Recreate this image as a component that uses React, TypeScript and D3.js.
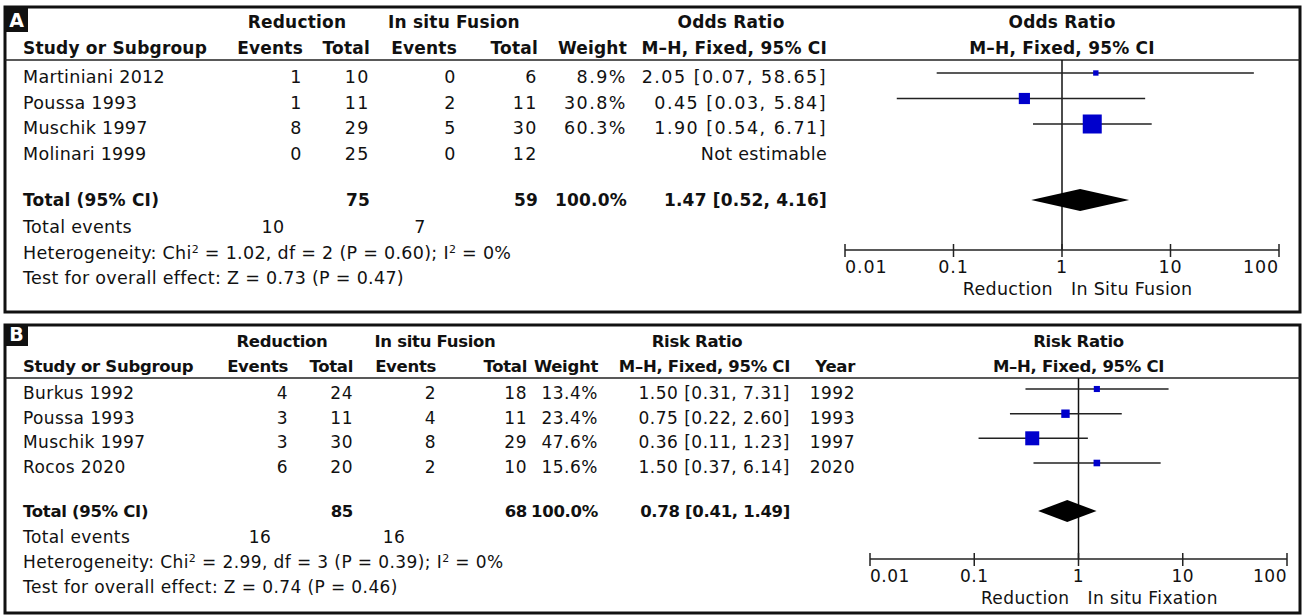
import React from 'react';
import * as d3 from 'd3';

// ---- panel A : odds ratio ----
const studiesA = ['Martiniani 2012', 'Poussa 1993', 'Muschik 1997', 'Molinari 1999'];
const redEventsA = [1, 1, 8, 0];
const redTotalA = [10, 11, 29, 25];
const insEventsA = [0, 2, 5, 0];
const insTotalA = [6, 11, 30, 12];
const weightA = [8.9, 30.8, 60.3, null];
const estA = [2.05, 0.45, 1.9, null];
const lowA = [0.07, 0.03, 0.54, null];
const highA = [58.65, 5.84, 6.71, null];
const pooledA = [1.47, 0.52, 4.16];
const totalsA = [75, 59];
const totalEventsA = [10, 7];
const statsA = [
  'Heterogeneity: Chi² = 1.02, df = 2 (P = 0.60); I² = 0%',
  'Test for overall effect: Z = 0.73 (P = 0.47)',
];

// ---- panel B : risk ratio ----
const studiesB = ['Burkus 1992', 'Poussa 1993', 'Muschik 1997', 'Rocos 2020'];
const redEventsB = [4, 3, 3, 6];
const redTotalB = [24, 11, 30, 20];
const insEventsB = [2, 4, 8, 2];
const insTotalB = [18, 11, 29, 10];
const weightB = [13.4, 23.4, 47.6, 15.6];
const estB = [1.5, 0.75, 0.36, 1.5];
const lowB = [0.31, 0.22, 0.11, 0.37];
const highB = [7.31, 2.6, 1.23, 6.14];
const yearB = [1992, 1993, 1997, 2020];
const pooledB = [0.78, 0.41, 1.49];
const totalsB = [85, 68];
const totalEventsB = [16, 16];
const statsB = [
  'Heterogeneity: Chi² = 2.99, df = 3 (P = 0.39); I² = 0%',
  'Test for overall effect: Z = 0.74 (P = 0.46)',
];

const axisTicks = [0.01, 0.1, 1, 10, 100];
const tickLabels = ['0.01', '0.1', '1', '10', '100'];

const FONT = 'DejaVu Sans';

const fmtCI = (e, l, h) => `${e.toFixed(2)} [${l.toFixed(2)}, ${h.toFixed(2)}]`;

function Sup({ s }) {
  const parts = s.split('²');
  return (
    <>
      {parts.map((p, i) => (
        <React.Fragment key={i}>
          <tspan>{p}</tspan>
          {i < parts.length - 1 && (
            <tspan fontSize={11} baselineShift="6">2</tspan>
          )}
        </React.Fragment>
      ))}
    </>
  );
}

function Panel({ cfg }) {
  const L = cfg.layout;
  const f = cfg.font;
  const x = d3.scaleLog().domain([0.01, 100]).range([L.ax0, L.ax1]);
  const size = d3.scaleLinear().domain([0, d3.max(cfg.weight, (d) => d ?? 0)]).range([3, L.maxSq]);
  const x1 = x(1);
  const T = (props) => (
    <text fontFamily={FONT} fontSize={f.fs} letterSpacing={f.ls} fill="#111" {...props} />
  );
  const N = (props) => <T letterSpacing={f.lsNum} textAnchor="end" {...props} />;
  const B = (props) => <T fontWeight="bold" fontSize={f.bfs} letterSpacing={f.bls} {...props} />;
  const c = L.cols;

  return (
    <g>
      <rect x={L.box[0]} y={L.box[1]} width={L.box[2] - L.box[0]} height={L.box[3] - L.box[1]}
        fill="white" stroke="#111" strokeWidth={3} />
      <rect x={L.box[0]} y={L.box[1]} width={23} height={L.tagH} fill="#111" />
      <text x={L.box[0] + 11.5} y={L.box[1] + L.tagH - 5} textAnchor="middle" fill="white"
        fontFamily={FONT} fontWeight="bold" fontSize={19}>{cfg.tag}</text>

      {/* header */}
      <B x={L.g1} y={L.h1} textAnchor="middle">Reduction</B>
      <B x={L.g2} y={L.h1} textAnchor="middle">In situ Fusion</B>
      <B x={L.g3} y={L.h1} textAnchor="middle">{cfg.measure}</B>
      <B x={x1} y={L.h1} textAnchor="middle">{cfg.measure}</B>
      <B x={c.study} y={L.h2}>Study or Subgroup</B>
      <B x={c.e1} y={L.h2} textAnchor="end">Events</B>
      <B x={c.t1} y={L.h2} textAnchor="end">Total</B>
      <B x={c.e2} y={L.h2} textAnchor="end">Events</B>
      <B x={c.t2} y={L.h2} textAnchor="end">Total</B>
      <B x={c.w} y={L.h2} textAnchor="end">Weight</B>
      <B x={c.ci} y={L.h2} textAnchor="end">M–H, Fixed, 95% CI</B>
      {c.year && <B x={c.year} y={L.h2} textAnchor="end">Year</B>}
      <B x={x1} y={L.h2} textAnchor="middle">M–H, Fixed, 95% CI</B>
      <line x1={L.box[0]} x2={L.box[2]} y1={L.hLine} y2={L.hLine} stroke="#222" strokeWidth={1.5} />

      {/* null line */}
      <line x1={x1} x2={x1} y1={L.hLine} y2={L.axisY} stroke="#111" strokeWidth={1.5} />

      {/* study rows */}
      {cfg.studies.map((s, i) => {
        const y = L.rows[i];
        const by = y + 10;
        const w = cfg.weight[i];
        const e = cfg.est[i];
        return (
          <g key={s}>
            <T x={c.study} y={by}>{s}</T>
            <N x={c.e1} y={by}>{cfg.e1[i]}</N>
            <N x={c.t1} y={by}>{cfg.t1[i]}</N>
            <N x={c.e2} y={by}>{cfg.e2[i]}</N>
            <N x={c.t2} y={by}>{cfg.t2[i]}</N>
            {w != null && <N x={c.w} y={by}>{w.toFixed(1)}%</N>}
            {e != null
              ? <N x={c.ci} y={by}>{fmtCI(e, cfg.low[i], cfg.high[i])}</N>
              : <T x={c.ci} y={by} textAnchor="end">Not estimable</T>}
            {c.year && <N x={c.year} y={by}>{cfg.year[i]}</N>}
            {e != null && (
              <>
                <line x1={x(cfg.low[i])} x2={x(cfg.high[i])} y1={y} y2={y} stroke="#222" strokeWidth={1.5} />
                <rect x={x(e) - size(w) / 2} y={y - size(w) / 2} width={size(w)} height={size(w)} fill="#0000cc" />
              </>
            )}
          </g>
        );
      })}

      {/* total */}
      <B x={c.study} y={L.totY + 6}>Total (95% CI)</B>
      <B x={c.t1} y={L.totY + 6} textAnchor="end">{cfg.totals[0]}</B>
      <B x={c.t2} y={L.totY + 6} textAnchor="end">{cfg.totals[1]}</B>
      <B x={c.w} y={L.totY + 6} textAnchor="end">100.0%</B>
      <B x={c.ci} y={L.totY + 6} textAnchor="end">{fmtCI(cfg.pooled[0], cfg.pooled[1], cfg.pooled[2])}</B>
      <path
        d={`M${x(cfg.pooled[1])},${L.totY} L${x(cfg.pooled[0])},${L.totY - 11} L${x(cfg.pooled[2])},${L.totY} L${x(cfg.pooled[0])},${L.totY + 11} Z`}
        fill="#000" />

      <T x={c.study} y={L.evY + 6}>Total events</T>
      <T x={L.ev1} y={L.evY + 6} textAnchor="middle">{cfg.totalEvents[0]}</T>
      <T x={L.ev2} y={L.evY + 6} textAnchor="middle">{cfg.totalEvents[1]}</T>
      <T x={c.study} y={L.hetY + 6}><Sup s={cfg.stats[0]} /></T>
      <T x={c.study} y={L.testY + 6}>{cfg.stats[1]}</T>

      {/* axis */}
      <line x1={L.ax0} x2={L.ax1} y1={L.axisY} y2={L.axisY} stroke="#222" strokeWidth={1.5} />
      {axisTicks.map((t, i) => (
        <g key={t}>
          <line x1={x(t)} x2={x(t)} y1={L.axisY - 6} y2={L.axisY + 7} stroke="#222" strokeWidth={1.5} />
          <T x={x(t)} y={L.axisY + 23} letterSpacing={f.lsTick}
            textAnchor={i === 0 ? 'start' : i === axisTicks.length - 1 ? 'end' : 'middle'}>
            {tickLabels[i]}
          </T>
        </g>
      ))}
      <T x={x1 - 9} y={L.axisY + 45} textAnchor="end">Reduction</T>
      <T x={x1 + 9} y={L.axisY + 45}>{cfg.favours}</T>
    </g>
  );
}

const panelA = {
  tag: 'A', measure: 'Odds Ratio', favours: 'In Situ Fusion',
  studies: studiesA, e1: redEventsA, t1: redTotalA, e2: insEventsA, t2: insTotalA,
  weight: weightA, est: estA, low: lowA, high: highA, pooled: pooledA,
  totals: totalsA, totalEvents: totalEventsA, stats: statsA,
  font: { fs: 17.5, ls: 0.3, lsNum: 1.5, lsTick: 0.9, bfs: 17, bls: 0.2 },
  layout: {
    box: [5, 7, 1300, 312], tagH: 25,
    h1: 28, h2: 54, hLine: 60,
    cols: { study: 23, e1: 303, t1: 370, e2: 457, t2: 538, w: 627, ci: 827 },
    g1: 297, g2: 454, g3: 731,
    rows: [73, 98.5, 124, 149.5], totY: 200, evY: 227, hetY: 253, testY: 278,
    ev1: 273, ev2: 420,
    ax0: 845, ax1: 1279, axisY: 250, maxSq: 19,
  },
};

const panelB = {
  tag: 'B', measure: 'Risk Ratio', favours: 'In situ Fixation',
  studies: studiesB, e1: redEventsB, t1: redTotalB, e2: insEventsB, t2: insTotalB,
  weight: weightB, est: estB, low: lowB, high: highB, pooled: pooledB, year: yearB,
  totals: totalsB, totalEvents: totalEventsB, stats: statsB,
  font: { fs: 17, ls: 0.4, lsNum: 0.5, lsTick: 0.5, bfs: 16.5, bls: -0.3 },
  layout: {
    box: [5, 325, 1300, 613], tagH: 21,
    h1: 347, h2: 372, hLine: 378,
    cols: { study: 23, e1: 288, t1: 353, e2: 436, t2: 527, w: 598, ci: 790, year: 855 },
    g1: 282, g2: 435, g3: 697,
    rows: [389, 413.7, 438.3, 463], totY: 511, evY: 537, hetY: 562, testY: 587,
    ev1: 260, ev2: 394,
    ax0: 870, ax1: 1287, axisY: 559, maxSq: 14,
  },
};

export default function App() {
  return (
    <svg width={1304} height={615} style={{ position: 'absolute', left: 0, top: 0, background: 'white' }}>
      <Panel cfg={panelA} />
      <Panel cfg={panelB} />
    </svg>
  );
}
